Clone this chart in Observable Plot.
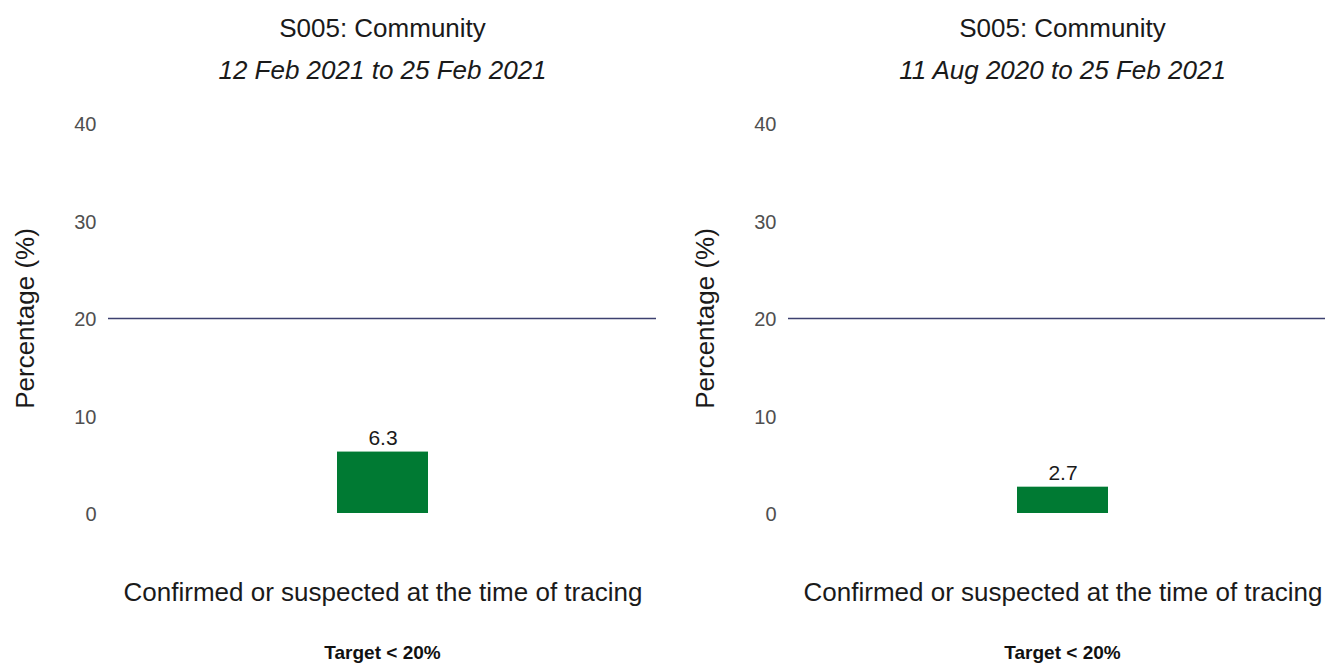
<!DOCTYPE html>
<html>
<head>
<meta charset="utf-8">
<script src="https://cdn.jsdelivr.net/npm/d3@7"></script>
<script src="https://cdn.jsdelivr.net/npm/@observablehq/plot@0.6"></script>
<style>
  html, body { margin: 0; padding: 0; background: #fff; overflow: hidden; }
  body { width: 1325px; height: 663px; }
  #row { display: flex; flex-wrap: nowrap; width: 1400px; }
  #row > svg { flex: none; }
</style>
</head>
<body>
<div id="row"></div>
<script>
const titles = ["S005: Community", "S005: Community"];
const subtitles = ["12 Feb 2021 to 25 Feb 2021", "11 Aug 2020 to 25 Feb 2021"];
const category = "Confirmed or suspected at the time of tracing";
const values = [6.3, 2.7];
const targetValue = 20;
const yTicks = [0, 10, 20, 30, 40];
const yLabel = "Percentage (%)";
const captionText = "Target < 20%";

const font = "'Liberation Sans', Arial, sans-serif";
const row = document.getElementById("row");

values.forEach((v, i) => {
  const data = [{cat: category, value: v}];
  const chart = Plot.plot({
    width: 680,
    height: 663,
    marginTop: 123,
    marginBottom: 150,
    marginLeft: 108,
    marginRight: 24,
    style: {fontFamily: font, background: "#fff"},
    x: {domain: [category], padding: 0.715, label: null},
    y: {domain: [0, 40], label: null},
    marks: [
      Plot.axisY({ticks: yTicks, tickSize: 0, tickPadding: 12, fontSize: 20, fill: "#4f4f4f", dy: 1.5, label: null}),
      Plot.text([yLabel], {frameAnchor: "left", rotate: -90, dx: -83, textAnchor: "middle", lineAnchor: "middle", fontSize: 26, fill: "#1a1a1a"}),
      Plot.axisX({tickSize: 0, tickPadding: 69, fontSize: 26, fill: "#1a1a1a"}),
      Plot.ruleY([targetValue], {stroke: "#3d4170", strokeWidth: 1.5}),
      Plot.barY(data, {x: "cat", y: "value", fill: "#007a33"}),
      Plot.text(data, {x: "cat", y: "value", text: d => d.value.toFixed(1), dy: -14, fontSize: 21, fill: "#1a1a1a"}),
      Plot.text([titles[i]], {frameAnchor: "top", lineAnchor: "middle", dy: -95, fontSize: 26, fill: "#1a1a1a"}),
      Plot.text([subtitles[i]], {frameAnchor: "top", lineAnchor: "middle", dy: -53, fontSize: 26, fill: "#1a1a1a", fontStyle: "italic"}),
      Plot.text([captionText], {frameAnchor: "bottom", lineAnchor: "middle", dy: 139, fontSize: 19, fill: "#111", fontWeight: "bold"})
    ]
  });
  row.appendChild(chart);
});
</script>
</body>
</html>
